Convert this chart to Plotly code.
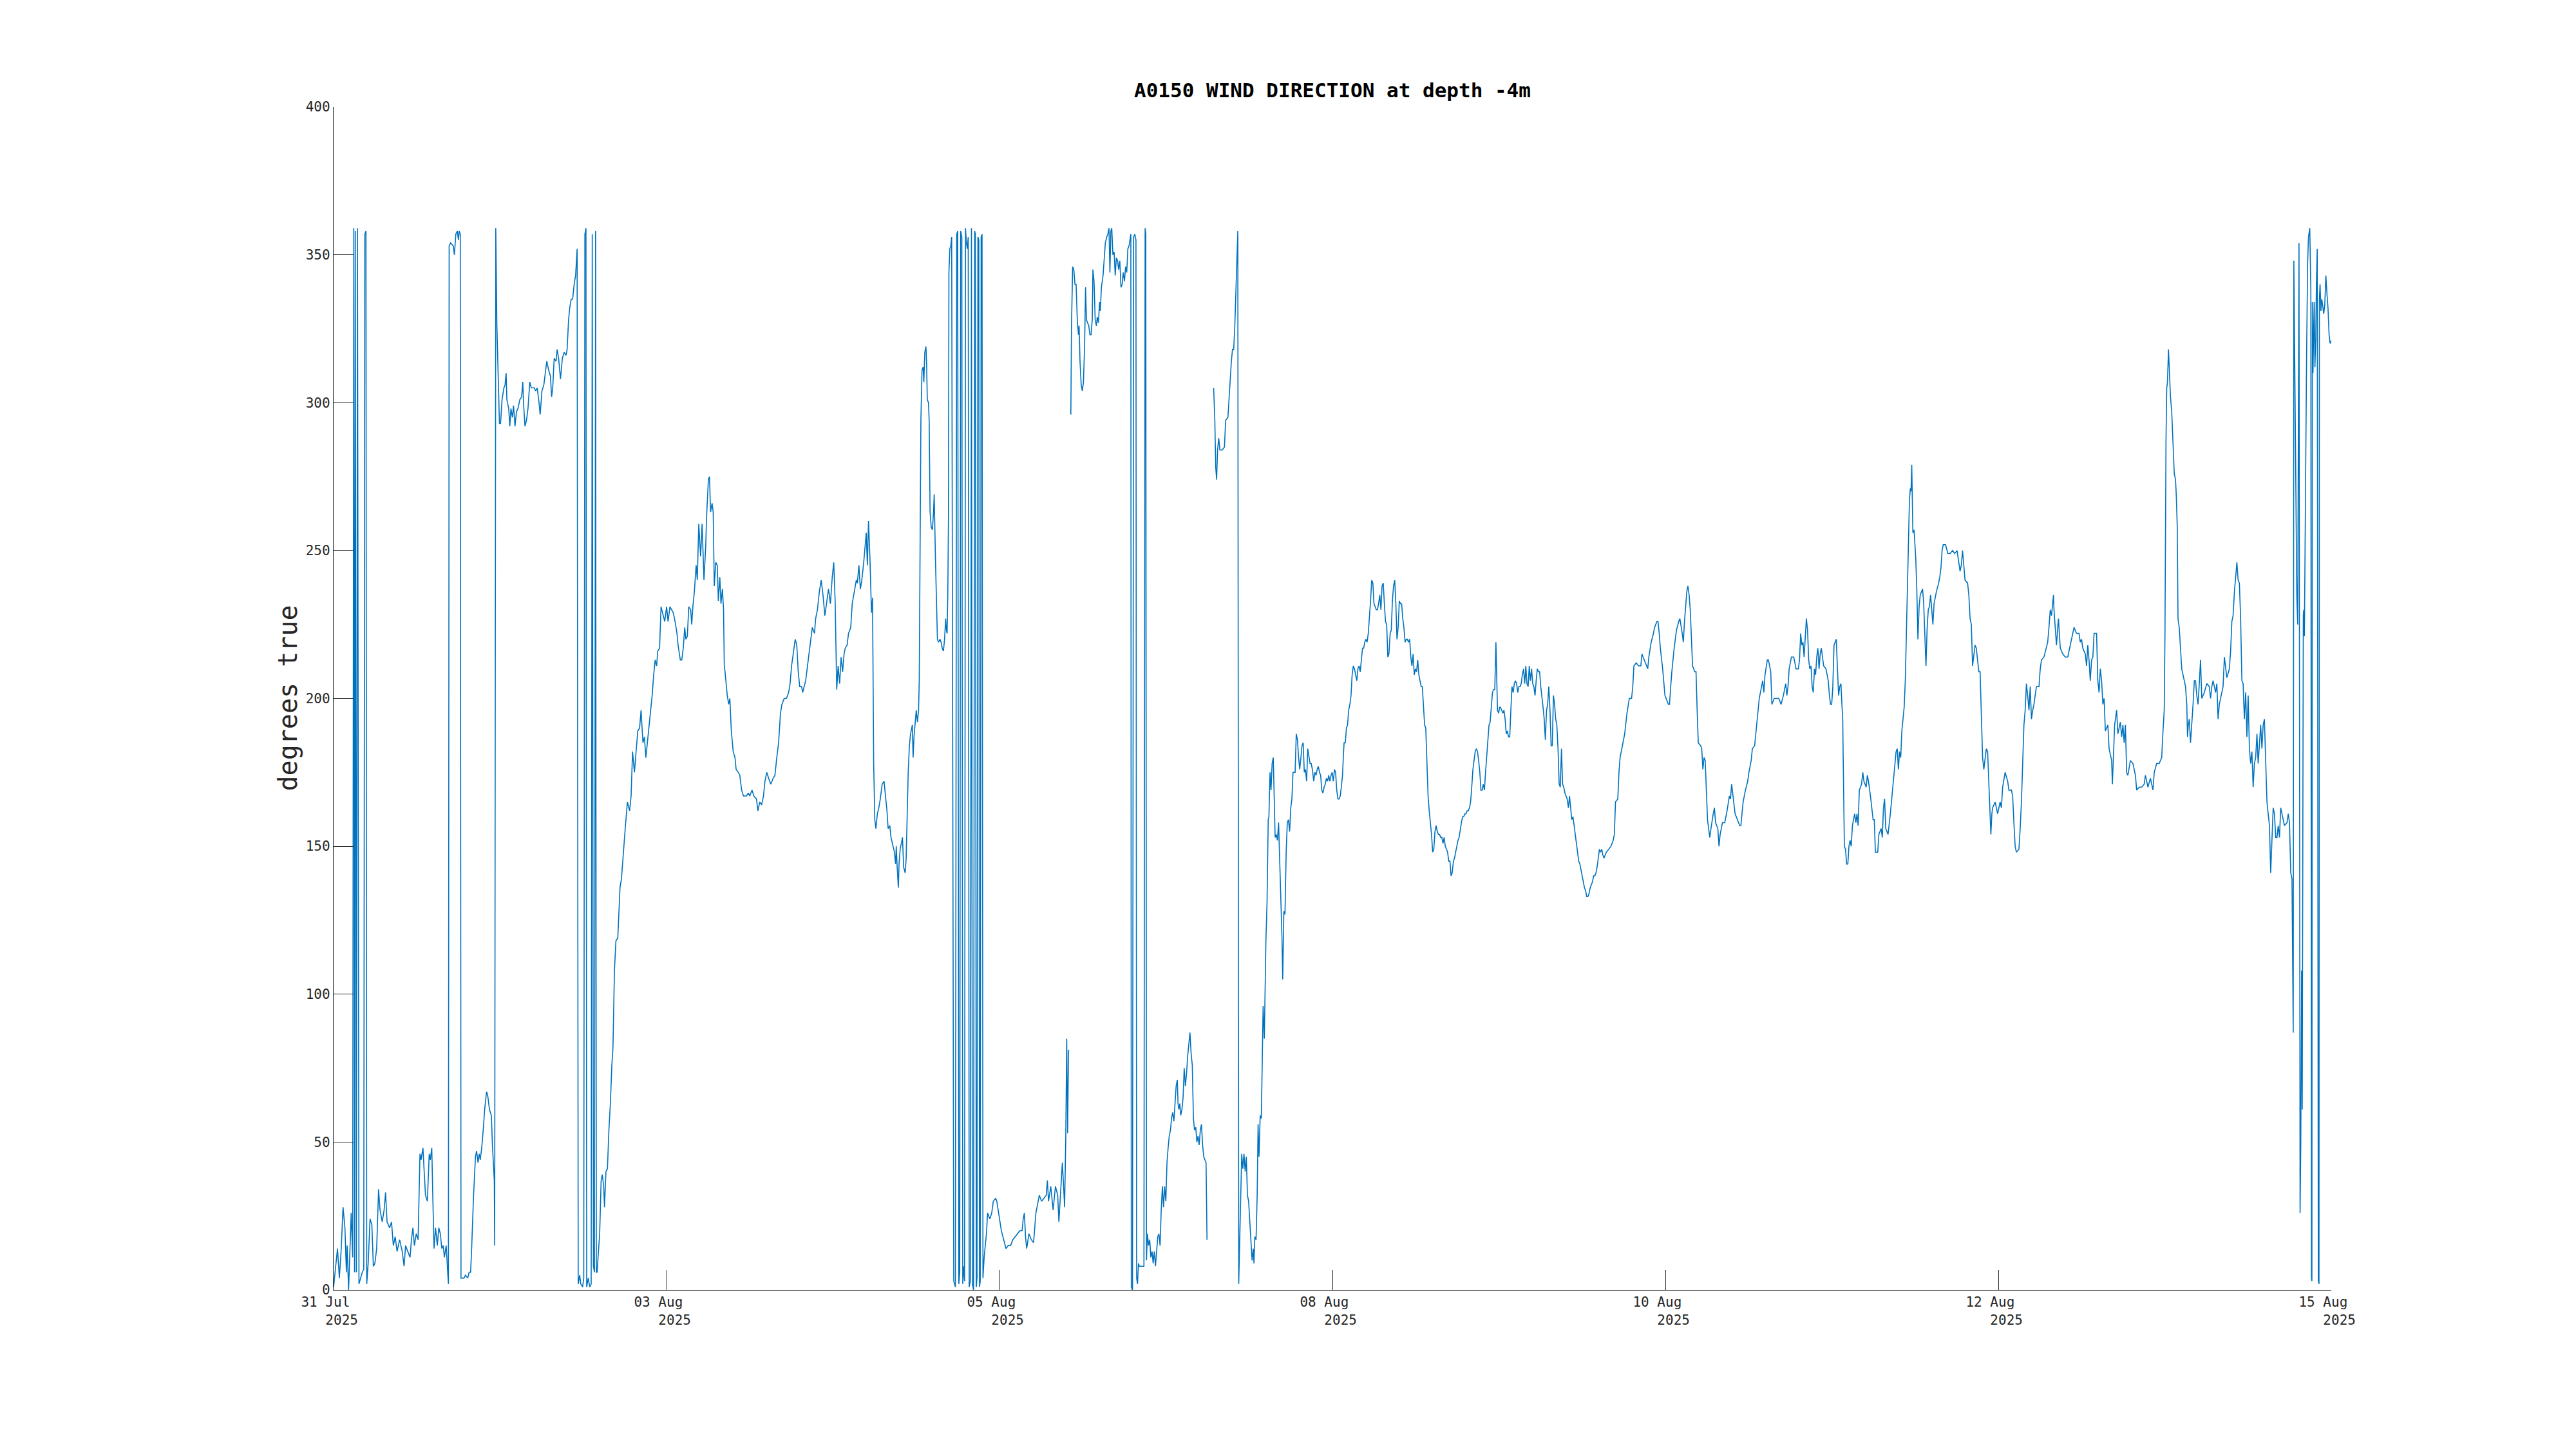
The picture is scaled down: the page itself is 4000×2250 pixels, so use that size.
import pandas as pd
import plotly.graph_objects as go

# ---------------- data ----------------
start_time = pd.Timestamp("2025-07-31 16:48:00")
end_time = pd.Timestamp("2025-08-15 09:36:00")

# (hours since start, wind direction in degrees true)
seg_a = [(0.00,1),(0.43,9),(0.69,14),(1.02,4),(1.35,14),(1.67,28),(2.00,21),(2.26,6),(2.39,15),(2.65,0),(2.91,14),(3.11,26),(3.37,11),(3.57,359),(3.70,6),(3.83,358),(4.02,6),(4.22,359),(4.48,2),(4.74,4),(5.07,6),(5.33,7),(5.52,357),(5.72,358),(5.85,2),(6.11,9),(6.44,24),(6.76,22),(7.02,8),(7.29,9),(7.61,14),(7.94,34),(8.20,27),(8.59,23),(8.92,27),(9.18,33),(9.44,23),(9.90,21),(10.23,23),(10.55,15),(10.88,18),(11.21,13),(11.66,17),(12.12,13),(12.45,8),(12.71,15),(13.10,13),(13.50,11),(13.75,17),(14.01,21),(14.27,15),(14.60,19),(14.93,17),(15.25,46),(15.45,44),(15.78,48),(15.97,41),(16.23,32),(16.56,30),(16.89,46),(17.08,44),(17.34,48),(17.54,30),(17.74,14),(18.00,21),(18.32,15),(18.58,21),(18.85,19),(19.11,14),(19.37,15),(19.56,11),(19.89,15),(20.15,6),(20.28,2),(20.41,353),(20.67,354),(21.13,353),(21.33,350),(21.59,357),(21.85,358),(22.05,355),(22.18,358),(22.37,357),(22.50,4),(22.76,4),(23.03,4),(23.29,5),(23.68,4),(23.94,6),(24.20,6),(24.40,15),(24.72,32),(25.05,45),(25.25,47),(25.51,43),(25.70,46),(25.90,44),(26.16,48),(26.42,54),(26.68,61),(27.01,67),(27.20,66),(27.53,61),(27.86,59),(28.05,49),(28.38,37),(28.45,15),(28.64,359),(28.84,326),(29.04,310),(29.29,293),(29.49,293),(29.75,301),(30.08,305),(30.28,306),(30.47,310),(30.60,301),(30.93,298),(31.12,292),(31.32,298),(31.58,295),(31.78,299),(32.04,292),(32.30,297),(32.56,298),(32.89,301),(33.21,302),(33.41,307),(33.54,300),(33.80,292),(34.06,294),(34.33,298),(34.65,307),(34.91,305),(35.17,305),(35.43,305),(35.69,304),(35.96,305),(36.28,300),(36.48,296),(36.80,304),(37.13,306),(37.39,310),(37.65,314),(37.98,311),(38.30,309),(38.50,302),(38.70,305),(38.96,315),(39.29,314),(39.48,318),(39.74,315),(40.07,308),(40.40,315),(40.72,317),(41.05,316),(41.24,318),(41.50,328),(41.70,332),(41.96,335),(42.22,335),(42.48,340),(42.74,343),(42.87,349),(43.01,352),(43.20,2),(43.46,5),(43.66,2),(43.98,1),(44.18,4),(44.38,357),(44.57,359),(44.70,1),(44.97,4),(45.23,1),(45.49,2),(45.68,357),(45.88,8),(46.07,6),(46.27,358),(46.40,6),(46.53,6),(46.73,11),(46.99,19),(47.25,37),(47.45,39),(47.71,35),(47.84,28),(48.10,40),(48.36,41),(48.62,54),(48.88,63),(49.14,76),(49.34,82),(49.60,108),(49.86,118),(50.19,119),(50.58,136),(50.84,139),(51.17,148),(51.50,156),(51.89,165),(52.28,162),(52.54,167),(52.80,182),(53.13,175),(53.46,182),(53.72,189),(54.04,190),(54.30,196),(54.63,185),(54.89,187),(55.15,180),(55.42,185),(55.87,194),(56.07,198),(56.26,201),(56.53,208),(56.79,213),(57.05,211),(57.25,216),(57.57,217),(57.83,231),(58.09,229),(58.48,226),(58.81,231),(59.07,226),(59.40,231),(59.66,230),(59.98,229),(60.31,226),(60.64,222),(60.84,218),(61.23,213),(61.49,213),(61.75,217),(62.01,224),(62.21,220),(62.47,221),(62.73,231),(63.06,230),(63.25,225),(63.45,231),(63.71,236),(64.03,245),(64.23,240),(64.49,259),(64.82,248),(65.08,259),(65.41,240),(65.73,252),(65.86,261),(66.19,274),(66.38,275),(66.58,263),(66.84,266),(67.04,263),(67.23,238),(67.49,246),(67.76,245),(67.95,233),(68.21,241),(68.41,232),(68.67,237),(68.87,230),(69.00,211),(69.13,209),(69.52,201),(69.78,198),(69.98,200),(70.24,189),(70.57,182),(70.89,180),(71.09,176),(71.48,175),(71.74,174),(72.06,169),(72.39,167),(72.91,167),(73.24,168),(73.50,167),(73.90,169),(74.22,167),(74.68,166),(74.94,162),(75.26,165),(75.59,164),(75.92,167),(76.18,172),(76.50,175),(76.83,173),(77.22,171),(77.62,173),(77.94,174),(78.27,180),(78.59,185),(78.92,195),(79.18,198),(79.58,200),(79.97,200),(80.36,202),(80.62,205),(80.88,211),(81.27,217),(81.53,220),(81.80,218),(82.06,209),(82.32,204),(82.65,204),(82.84,202),(83.10,204),(83.37,206),(83.63,210),(83.89,214),(84.15,219),(84.54,224),(84.93,222),(85.13,227),(85.45,230),(85.78,236),(86.11,240),(86.43,235),(86.76,228),(87.02,232),(87.41,237),(87.74,232),(88.06,241),(88.33,246),(88.59,232),(88.85,203),(89.11,211),(89.37,205),(89.63,214),(89.89,209),(90.15,215),(90.35,217),(90.68,218),(90.94,222),(91.33,224),(91.59,232),(91.98,236),(92.31,240),(92.50,239),(92.77,245),(93.03,237),(93.29,240),(93.62,246),(93.81,250),(94.07,256),(94.27,245),(94.47,260),(94.73,247),(94.99,229),(95.18,234),(95.38,178),(95.58,159),(95.77,156),(96.03,161),(96.29,163),(96.55,166),(96.88,171),(97.21,172),(97.47,167),(97.73,162),(97.93,156),
(98.23,157),(98.44,153),(98.84,150),(99.05,148),(99.25,144),(99.37,150),(99.53,143),(99.74,136),(99.86,144),(100.06,149),(100.47,153),(100.67,143),(100.95,141),(101.12,146),(101.28,159),(101.48,175),(101.69,184),(101.89,188),(102.21,191),(102.34,180),(102.50,187),(102.70,192),(102.90,196),(103.11,192),(103.31,196),(103.43,206),(103.55,248),(103.72,294),(103.92,311),(104.12,312),(104.24,307),(104.41,317),(104.61,319),(104.73,313),(104.85,301),(105.06,300),(105.18,294),(105.34,263),(105.54,258),(105.75,257),(105.95,263),(106.07,269),(106.28,248),(106.44,235),(106.64,220),(106.84,219),(107.09,220),(107.29,219),(107.49,217),(107.70,216),(107.90,220),(108.10,227),(108.23,223),(108.35,222),(108.47,235),(108.59,261),(108.67,344),(108.83,352),(109.00,353),(109.16,356),(109.52,3),(109.81,1),(110.05,357),(110.22,358),(110.42,2),(110.58,6),(110.74,358),(110.95,356),(111.11,2),(111.27,8),(111.43,3),(111.60,359),(111.76,354),(111.92,352),(112.08,356),(112.25,1),(112.45,3),(112.65,359),(112.81,2),(113.02,0),(113.22,358),(113.34,357),(113.50,1),(113.63,4),(113.79,356),(113.95,355),(114.07,1),(114.20,3),(114.36,356),(114.52,357),(114.68,4),(114.89,11),(115.09,15),(115.29,19),(115.50,26),(115.90,24),(116.23,26),(116.51,30),(116.92,31),(117.12,30),(117.45,26),(117.73,23),(117.93,20),(118.34,17),(118.75,14),(119.15,15),(119.56,15),(119.96,17),(120.37,18),(120.78,19),(121.18,20),(121.59,20),(121.79,24),(121.99,26),(122.20,18),(122.40,14),(122.81,19),(123.21,17),(123.62,16),(124.03,26),(124.43,30),(124.63,32),(125.04,30),(125.45,31),(125.85,32),(126.06,37),(126.26,30),(126.66,35),(127.07,27),(127.48,35),(127.88,32),(128.09,23),(128.49,35),(128.70,43),(128.90,36),(129.10,28),(129.31,52),(129.47,85),(129.63,53),(129.79,81),(129.91,81)]

seg_b = [(130.20,296),(130.32,326),(130.52,346),(130.73,345),(130.93,340),(131.13,340),(131.34,328),(131.54,323),(131.66,326),(131.82,314),(132.03,306),(132.23,304),(132.43,307),(132.64,320),(132.80,339),(132.96,328),(133.16,327),(133.37,326),(133.57,323),(133.77,323),(133.98,328),(134.10,345),(134.30,341),(134.50,328),(134.71,326),(134.87,329),(135.07,327),(135.28,334),(135.40,331),(135.60,339),(135.89,343),(136.09,348),(136.29,354),(136.54,356),(136.74,357),(136.94,359),(137.10,344),(137.27,358),(137.43,359),(137.63,350),(137.84,351),(138.04,343),(138.24,349),(138.45,348),(138.65,345),(138.85,348),(139.06,339),(139.26,340),(139.46,344),(139.67,341),(139.87,346),(140.07,344),(140.27,352),(140.48,353),(140.68,356),(140.80,357),(140.88,1),(141.09,0),(141.29,356),(141.49,357),(141.70,355),(141.82,4),(141.98,2),(142.14,9),(142.30,8),(142.51,8),(142.71,8),(142.91,8),(143.11,8),(143.32,359),(143.44,357),(143.56,10),(143.72,19),(143.93,15),(144.13,17),(144.33,11),(144.54,13),(144.74,9),(144.94,13),(145.15,8),(145.35,14),(145.55,18),(145.76,19),(145.96,15),(146.16,27),(146.37,35),(146.57,28),(146.77,35),(146.98,30),(147.18,43),(147.38,48),(147.58,52),(147.79,54),(147.99,58),(148.19,60),(148.40,57),(148.60,63),(148.80,69),(149.01,71),(149.13,63),(149.29,61),(149.45,63),(149.61,59),(149.82,61),(150.02,65),(150.22,75),(150.43,69),(150.63,73),(150.83,79),(151.04,83),(151.24,87),(151.44,80),(151.65,76),(151.85,58),(152.05,54),(152.26,55),(152.46,50),(152.66,52),(152.86,49),(153.07,54),(153.27,56),(153.47,49),(153.68,45),(153.88,44),(154.08,43),(154.25,17)]

seg_c = [(155.42,305),(155.63,294),(155.79,278),(155.95,274),(156.11,284),(156.32,288),(156.52,284),(156.93,284),(157.33,285),(157.54,294),(157.94,295),(158.15,302),(158.35,307),(158.55,314),(158.75,318),(158.96,318),(159.16,326),(159.36,339),(159.57,348),(159.69,358),(159.85,2),(160.05,19),(160.26,32),(160.38,46),(160.58,41),(160.78,46),(160.99,40),(161.19,45),(161.39,32),(161.60,30),
(161.81,23),(162.01,17),(162.21,10),(162.42,14),(162.54,9),(162.70,18),(162.91,17),(163.11,32),(163.27,56),(163.43,45),(163.64,59),(163.84,58),(164.04,82),(164.16,96),(164.37,85),(164.53,105),(164.65,118),(164.85,131),(165.06,159),(165.18,160),(165.38,175),(165.55,169),(165.75,178),(165.95,180),(166.07,172),(166.28,153),(166.48,154),(166.68,152),(166.89,158),(167.09,146),(167.29,131),(167.49,119),(167.62,105),(167.82,128),(168.02,127),(168.23,148),(168.43,158),(168.63,159),(168.84,155),(169.04,163),(169.24,166),(169.44,175),(169.61,175),(169.81,175),(170.01,188),(170.22,186),(170.42,180),(170.62,176),(170.83,180),(171.03,184),(171.23,185),(171.43,175),(171.64,176),(171.84,172),(172.04,183),(172.25,180),(172.45,178),(172.65,178),(172.86,176),(173.10,172),(173.30,175),(173.51,174),(173.71,176),(173.91,177),(174.12,175),(174.32,174),(174.52,169),(174.72,168),(174.93,170),(175.13,171),(175.33,173),(175.54,172),(175.74,174),(175.94,172),(176.15,174),(176.35,175),(176.55,172),(176.76,176),(176.96,175),(177.16,169),(177.37,166),(177.57,166),(177.77,167),(177.97,170),(178.18,174),(178.34,181),(178.46,185),(178.67,185),(178.87,190),(179.07,191),(179.27,196),(179.48,198),(179.68,201),(179.88,208),(180.09,211),(180.29,210),(180.49,208),(180.70,206),(180.90,210),(181.10,211),(181.31,209),(181.51,213),(181.71,217),(181.91,217),(182.12,219),(182.32,220),(182.52,219),(182.73,222),(182.93,227),(183.13,233),(183.34,240),(183.54,239),(183.74,232),(183.94,231),(184.15,230),(184.35,230),(184.55,232),(184.76,235),(184.96,230),(185.16,238),(185.37,239),(185.57,232),(185.77,226),(185.98,225),(186.18,214),(186.38,215),(186.59,222),(186.79,223),(186.99,233),(187.19,238),(187.40,240),(187.60,232),(187.80,220),(188.01,224),(188.21,233),(188.41,232),(188.62,232),(188.82,227),(189.02,224),(189.23,219),(189.43,220),(189.63,220),(189.84,219),(190.04,220),(190.24,214),(190.44,211),(190.65,215),(190.85,208),(191.05,210),(191.26,209),(191.46,213),(191.66,208),(191.87,206),(192.07,204),(192.27,204),(192.48,197),(192.68,191),(192.88,190),(193.09,178),(193.29,167),(193.49,162),(193.69,158),(193.90,154),(194.10,148),(194.30,149),(194.51,155),(194.71,157),(194.91,155),(195.12,154),(195.32,154),(195.52,153),(195.72,153),(195.93,151),(196.13,153),(196.33,150),(196.54,149),(196.74,148),(196.94,145),(197.15,145),(197.35,140),(197.55,141),(197.76,145),(197.96,146),(198.16,148),(198.36,150),(198.57,152),(198.77,153),(198.97,156),(199.18,158),(199.38,160),(199.58,160),(199.79,161),(199.99,161),(200.19,162),(200.40,162),(200.60,163),(200.80,165),(201.00,170),(201.21,176),(201.41,179),(201.61,182),(201.82,183),(202.02,182),(202.22,179),(202.43,175),(202.63,169),(202.83,169),(203.04,171),(203.24,169),(203.44,175),(203.64,180),(203.85,184),(204.05,191),(204.25,192),(204.46,198),(204.66,202),(204.86,203),(205.07,203),(205.27,219),(205.39,206),(205.55,196),(205.76,195),(205.92,197),(206.08,197),(206.29,196),(206.49,195),(206.69,196),(206.90,193),(207.10,188),(207.30,189),(207.50,187),(207.71,187),(207.91,196),(208.11,204),(208.32,202),(208.52,205),(208.72,206),(208.93,205),(209.13,202),(209.33,204),(209.54,204),(209.74,205),(209.94,208),(210.15,210),(210.35,205),(210.55,211),(210.75,205),(210.96,204),(211.16,211),(211.36,206),(211.57,210),(211.77,205),(211.97,204),(212.18,201),(212.38,206),(212.58,210),(212.79,209),(212.99,209),(213.19,204),(213.39,201),(213.60,197),(213.80,193),(214.00,186),(214.21,196),(214.41,198),(214.61,204),(214.82,196),(215.02,184),(215.22,184),(215.43,201),(215.63,198),(215.83,193),(216.03,191),(216.24,183),(216.44,171),(216.64,170),(216.85,183),(217.05,171),(217.25,170),(217.46,168),(217.66,167),(217.86,166),(218.07,163),(218.27,167),(218.47,163),(218.67,159),(218.88,160),(219.08,157),(219.28,155),(219.49,152),(219.69,148),(219.89,145),(220.10,144),(220.30,142),(220.50,140),(220.71,138),(220.91,136),(221.11,135),(221.31,133),(221.52,133),(221.72,134),(221.92,136),(222.13,137),(222.33,138),(222.53,140),(222.74,140),(222.94,141),(223.14,143),(223.35,146),(223.55,149),(223.75,148),(223.96,149),(224.16,147),
(224.36,146),(224.77,148),(225.17,149),(225.58,150),(225.98,152),(226.19,154),(226.39,165),(226.80,166),(227.00,175),(227.20,180),(227.61,184),(228.01,188),(228.42,195),(228.83,200),(229.23,200),(229.44,204),(229.64,211),(230.05,212),(230.45,211),(230.86,211),(231.06,215),(231.47,213),(231.87,211),(232.08,210),(232.28,214),(232.69,219),(233.09,222),(233.30,224),(233.70,226),(233.90,226),(234.11,222),(234.31,217),(234.72,210),(234.92,206),(235.12,201),(235.73,198),(235.93,198),(236.14,204),(236.34,209),(236.75,217),(237.15,223),(237.56,226),(237.76,227),(238.17,222),(238.37,219),(238.57,226),(238.78,232),(238.98,236),(239.18,238),(239.39,235),(239.59,230),(239.79,220),(240.00,211),(240.40,209),(240.61,209),(240.81,196),(241.01,185),(241.42,184),(241.62,183),(241.82,176),(242.03,180),(242.23,179),(242.43,167),(242.64,159),(242.84,156),(243.04,153),(243.25,156),(243.45,159),(243.65,161),(243.86,163),(244.06,158),(244.46,156),(244.67,150),(244.87,154),(245.28,158),(245.68,158),(246.09,162),(246.50,167),(246.70,166),(246.90,171),(247.11,167),(247.51,161),(247.92,159),(248.32,157),(248.53,157),(248.93,165),(249.34,169),(249.74,172),(249.95,175),(250.35,179),(250.56,183),(250.96,184),(251.37,192),(251.78,200),(252.18,204),(252.39,206),(252.59,202),(252.79,208),(253.20,213),(253.40,213),(253.81,209),(254.01,198),(254.42,200),(254.82,200),(255.23,200),(255.63,198),(256.04,201),(256.45,205),(256.65,201),(256.85,204),(257.06,210),(257.46,214),(257.87,214),(258.28,210),(258.68,210),(258.89,213),(259.09,222),(259.29,218),(259.50,219),(259.70,214),(259.90,222),(260.10,227),(260.31,223),(260.51,213),(260.71,210),(260.92,211),(261.12,204),(261.32,202),(261.53,210),(261.73,208),(261.93,214),(262.13,217),(262.34,210),(262.54,215),(262.74,217),(263.15,211),(263.56,210),(263.96,206),(264.17,201),(264.37,198),(264.57,198),(264.77,204),(264.98,218),(265.38,220),(265.59,210),(265.79,201),(265.99,204),(266.20,205),(266.40,197),(266.52,193),(266.60,180),(266.68,165),(266.81,150),(267.01,149),(267.21,144),(267.42,144),(267.62,150),(267.82,152),(268.02,150),(268.23,157),(268.63,161),(268.84,158),(269.04,161),(269.24,157),(269.45,169),(269.85,171),(270.06,175),(270.26,172),(270.66,170),(270.87,174),(271.07,172),(271.48,166),(271.88,159),(272.09,159),(272.29,148),(272.70,148),(272.90,154),(273.30,156),(273.51,153),(273.71,163),(273.91,166),(274.12,156),(274.52,154),(274.93,161),(275.33,169),(275.54,174),(275.74,178),(275.94,182),(276.15,183),(276.35,176),(276.55,182),(276.76,180),(276.96,189),(277.16,193),(277.37,197),(277.57,206),(277.77,222),(277.97,243),(278.18,258),(278.30,267),(278.46,271),(278.58,270),(278.71,279),(278.79,269),(278.91,256),(279.11,257),(279.27,253),(279.40,248),(279.60,237),(279.80,220),(280.01,231),(280.21,235),(280.41,236),(280.62,237),(280.82,232),(281.02,220),(281.22,211),(281.43,224),(281.63,230),(281.83,231),(282.04,235),(282.24,230),(282.44,225),(282.65,232),(283.05,236),(283.46,239),(283.66,241),(283.86,244),(284.07,250),(284.27,252),(284.68,252),(285.08,249),(285.49,249),(285.90,250),(286.30,249),(286.71,250),
(287.02,246),(287.24,243),(287.46,245),(287.68,250),(287.90,245),(288.12,240),(288.57,239),(288.79,235),(289.01,227),(289.23,225),(289.45,211),(289.67,214),(289.89,218),(290.11,217),(290.34,213),(290.56,209),(290.78,209),(291.00,196),(291.22,180),(291.44,176),(291.66,179),(291.88,183),(292.11,182),(292.33,172),(292.55,161),(292.68,154),(292.86,161),(292.99,163),(293.43,165),(293.88,161),(294.32,165),(294.54,163),(294.76,170),(295.20,175),(295.65,172),(295.87,169),(296.31,169),(296.53,167),(296.75,158),(296.97,150),(297.19,148),(297.64,149),(297.86,156),(298.08,165),(298.30,178),(298.52,191),(298.74,196),(298.96,205),(299.18,201),(299.41,196),(299.63,204),(299.85,193),(300.07,196),(300.29,198),(300.73,204),(301.18,204),(301.40,210),(301.62,213),(302.06,214),(302.50,217),(302.72,219),(302.94,224),(303.17,230),(303.39,228),(303.61,232),(303.74,235),(303.83,230),(304.05,224),(304.27,218),(304.49,224),(304.63,227),(304.71,224),(304.94,217),(305.38,215),(305.82,214),(306.26,214),(306.71,218),(306.93,220),(307.37,224),(307.81,222),(308.25,222),(308.47,219),(308.70,220),(308.92,217),(309.36,215),(309.58,211),(309.80,218),(310.02,213),(310.24,206),(310.47,213),(310.69,214),(310.91,222),(311.35,222),(311.57,206),(311.79,202),(312.01,210),(312.24,206),(312.46,198),(312.68,200),(312.90,189),(313.34,191),(313.56,183),(314.01,179),(314.14,171),(314.36,183),(314.54,191),(314.89,196),(315.11,188),(315.55,192),(315.78,187),(316.00,191),(316.22,185),(316.44,191),(316.66,175),(316.88,174),(317.32,179),(317.77,178),(318.21,174),(318.43,169),(318.87,170),(319.32,170),(319.76,171),(319.98,174),(320.42,170),(320.86,173),(321.31,169),(321.53,175),(321.97,178),(322.41,178),(322.85,180),(323.08,189),(323.30,196),(323.43,222),(323.52,258),(323.61,287),(323.74,305),(323.87,307),(324.05,318),(324.18,313),(324.40,302),(324.62,297),(324.85,284),(325.07,276),(325.29,274),(325.42,269),(325.60,258),(325.73,227),(325.95,224),(326.17,217),(326.39,210),(326.84,206),(327.06,204),(327.28,198),(327.41,187),(327.54,191),(327.72,193),(327.94,185),(328.16,191),(328.39,198),(328.61,206),(328.83,206),(329.05,201),(329.27,198),(329.49,205),(329.71,213),(329.93,200),(330.38,202),(330.82,205),(331.26,204),(331.48,200),(331.70,204),(331.93,206),(332.37,202),(332.59,205),(332.81,193),(333.03,198),(333.47,202),(333.69,204),(333.92,214),(334.14,211),(334.36,207),(334.80,210),(335.02,216),(335.24,226),(335.46,228),(335.69,236),(335.91,241),(336.13,246),(336.35,240),(336.57,239),(336.79,227),(337.01,206),(337.23,205),(337.45,193),(337.68,202),(337.90,187),(338.12,201),(338.34,183),(338.56,178),(338.78,182),(339.00,170),(339.22,178),(339.45,180),(339.67,188),(339.89,178),(340.11,184),(340.33,191),(340.55,183),(340.77,191),(340.99,193),(341.22,179),(341.44,165),(341.66,161),(341.88,157),(342.10,141),(342.32,154),(342.54,163),(342.76,161),(342.99,153),(343.21,153),(343.43,157),(343.65,153),(343.87,163),(344.09,161),(344.53,157),(344.98,158),(345.20,161),(345.42,158),(345.64,141),(345.86,139),(345.99,115),(346.08,87),
(346.19,348),(346.34,311),(346.53,261),(346.72,234),(346.87,225),(347.10,354),(347.29,26),(347.41,49),(347.56,108),(347.67,61),(347.86,228),(347.94,230),(348.05,221),(348.24,280),(348.43,314),(348.62,347),(348.77,356),(349.00,359),(349.19,338),(349.30,4),(349.38,3),(349.45,334),(349.57,310),(349.68,324),(349.79,334),(349.91,312),(350.06,322),(350.17,340),(350.32,352),(350.51,3),(350.63,2),(350.70,335),(350.82,340),(350.97,331),(351.12,335),(351.27,333),(351.46,330),(351.65,333),(351.84,343),(352.03,337),(352.22,332),(352.41,323),(352.60,320),(352.80,321)]

segments = [seg_a, seg_b, seg_c]

y_ticks = [0, 50, 100, 150, 200, 250, 300, 350, 400]
x_tick_dates = ["2025-07-31 16:48", "2025-08-03 03:36", "2025-08-05 14:24",
                "2025-08-08 01:12", "2025-08-10 12:00", "2025-08-12 22:48",
                "2025-08-15 09:36"]
x_tick_days = ["31 Jul", "03 Aug", "05 Aug", "08 Aug", "10 Aug", "12 Aug", "15 Aug"]
x_tick_year = "2025"

title_text = "A0150 WIND DIRECTION at depth -4m"
y_label = "degrees true"

# ---------------- build series ----------------
xs, ys = [], []
for i, seg in enumerate(segments):
    if i:
        xs.append(None)
        ys.append(None)
    for h, d in seg:
        xs.append(start_time + pd.Timedelta(hours=h))
        ys.append(d)

NB = "\u00a0"
ticktext = [f"{d}{NB*2}<br>{NB*2}{x_tick_year}" for d in x_tick_days]

AX = "#262626"
MONO = "DejaVu Sans Mono"

fig = go.Figure()
fig.add_trace(go.Scatter(x=xs, y=ys, mode="lines",
                         line=dict(color="#0072BD", width=1.6),
                         connectgaps=False, showlegend=False))

# the page body adds an 8 px offset, so margins are reduced by 8 px on top/left
fig.update_layout(
    width=4000, height=2250, autosize=False,
    paper_bgcolor="white", plot_bgcolor="white",
    margin=dict(l=510, r=388, t=158, b=255, pad=0),
    title=dict(text=f"<b>{title_text}</b>", x=0.5, xref="paper",
               y=1 - 132 / 2250, yref="container", xanchor="center", yanchor="middle",
               font=dict(family=MONO, size=31, color="black")),
    annotations=[dict(text=y_label, xref="paper", yref="paper",
                      x=(446 - 518) / 3102, y=0.5, textangle=-90,
                      xanchor="center", yanchor="middle", showarrow=False,
                      font=dict(family=MONO, size=40, color=AX))],
)
fig.update_xaxes(
    type="date", range=[start_time, end_time],
    tickmode="array", tickvals=x_tick_dates, ticktext=ticktext,
    ticks="inside", ticklen=31, tickwidth=1.3, tickcolor=AX,
    showline=True, linecolor=AX, linewidth=1.3, mirror=False,
    showgrid=False, zeroline=False,
    tickfont=dict(family=MONO, size=21, color=AX),
)
fig.update_yaxes(
    range=[0, 400], tickmode="array", tickvals=y_ticks,
    ticks="inside", ticklen=31, tickwidth=1.3, tickcolor=AX,
    showline=True, linecolor=AX, linewidth=1.3, mirror=False,
    showgrid=False, zeroline=False,
    tickfont=dict(family=MONO, size=21, color=AX),
)

fig.write_html("out.html")
